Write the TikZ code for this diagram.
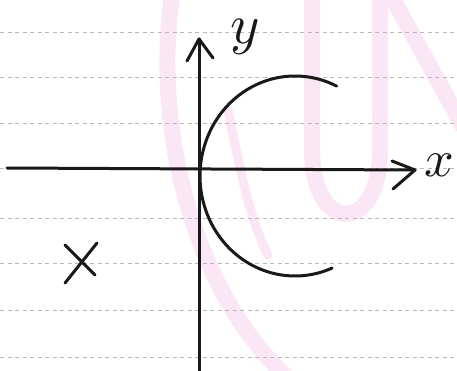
\documentclass[tikz,border=0pt]{standalone}
\usepackage{graphicx}
\usepackage{tikz}
\definecolor{wmpink}{RGB}{250,230,245}
\definecolor{ink}{RGB}{25,25,25}
\begin{document}
\begin{tikzpicture}[x=1pt,y=-1pt,
  axis/.style={line width=3pt, line cap=round, line join=round, draw=ink},
  ruled/.style={draw=gray!55, line width=0.8pt, dash pattern=on 4pt off 3.5pt},
  wm/.style={draw=wmpink, line width=16pt, line cap=round},
  lab/.style={inner sep=0pt, text=ink}]
\fill[white] (0,0) rectangle (457,371);
\useasboundingbox (0,0) rectangle (457,371);
% watermark
\draw[wm] (173,-10) .. controls (152,120) and (190,290) .. (290,380);
\draw[wm] (312,-10) -- (312,150) .. controls (312,235) and (380,235) .. (380,150) -- (380,-10);
\draw[wm] (388,-10) -- (465,130);
\draw[wm, line width=9pt] (228,110) .. controls (240,170) and (250,220) .. (268,255);
% ruled lines
\foreach \yy in {32,77,123,168,218,263,310,357}
  \draw[ruled] (0,\yy) -- (457,\yy);
% axes
\coordinate (xl) at (7,168);
\coordinate (xr) at (415,170);
\coordinate (yb) at (199,375);
\coordinate (yt) at (199,39);
\draw[axis] (xl) -- (xr);
\draw[axis] (yb) -- (yt);
\coordinate (ya1) at (187,61);
\coordinate (ya2) at (213,58);
\coordinate (xa1) at (392,161);
\coordinate (xa2) at (393,189);
\draw[axis] (ya1) -- (yt) -- (ya2);
\draw[axis] (xa1) -- (xr) -- (xa2);
\node[lab] (ylab) at (245,37) {\scalebox{5.6}{$y$}};
\node[lab] (xlab) at (439,165) {\scalebox{5.2}{$x$}};
% curve
\draw[axis] plot[domain=64:293, samples=80, smooth] ({295+95*cos(\x)},{176-100*sin(\x)});
% cross
\draw[axis] (65,245) -- (95,275);
\draw[axis] (97,243) -- (65,283);
\end{tikzpicture}
\end{document}
